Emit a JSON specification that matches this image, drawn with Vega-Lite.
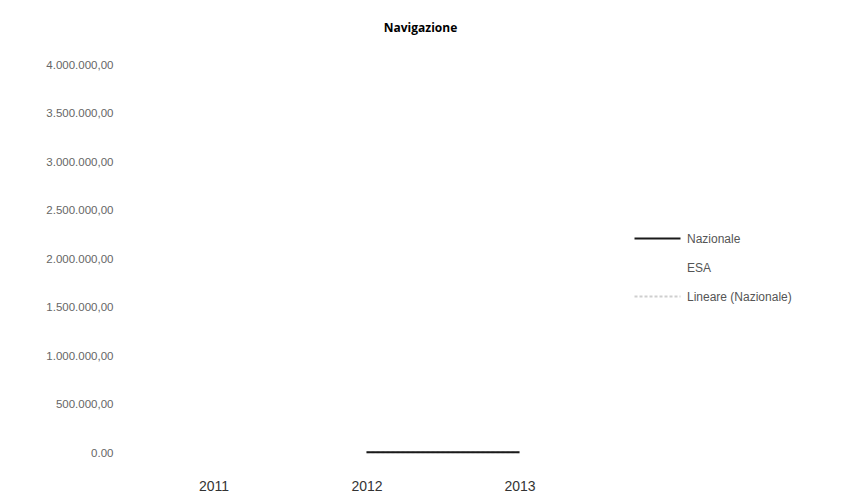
{
  "$schema": "https://vega.github.io/schema/vega-lite/v6.json",
  "width": 459,
  "height": 388,
  "autosize": {"type": "none"},
  "padding": {"left": 137, "top": 65, "right": 245, "bottom": 45},
  "background": "white",
  "config": {
    "view": {"stroke": null},
    "locale": {"number": {"decimal": ",", "thousands": ".", "grouping": [3], "currency": ["€", ""]}}
  },
  "title": {
    "text": "Navigazione",
    "anchor": "middle",
    "dx": 54,
    "offset": 24,
    "font": "Open Sans",
    "fontSize": 12,
    "fontWeight": "bold",
    "color": "#000000"
  },
  "data": {
    "values": [
      {"anno": 2012, "valore": 8000, "serie": "Lineare (Nazionale)"},
      {"anno": 2013, "valore": 9000, "serie": "Lineare (Nazionale)"},
      {"anno": 2012, "valore": null, "serie": "ESA"},
      {"anno": 2013, "valore": null, "serie": "ESA"},
      {"anno": 2012, "valore": 8000, "serie": "Nazionale"},
      {"anno": 2013, "valore": 9000, "serie": "Nazionale"}
    ]
  },
  "mark": {"type": "line", "strokeWidth": 2},
  "encoding": {
    "x": {
      "field": "anno",
      "type": "quantitative",
      "scale": {"domain": [2010.5, 2013.5], "nice": false, "zero": false},
      "axis": {
        "values": [2011, 2012, 2013],
        "format": "d",
        "title": null,
        "domain": false,
        "ticks": false,
        "grid": false,
        "labelFont": "Liberation Sans",
        "labelFontSize": 14,
        "labelPadding": 26,
        "labelColor": "#333333"
      }
    },
    "y": {
      "field": "valore",
      "type": "quantitative",
      "scale": {"domain": [0, 4000000], "nice": false},
      "axis": {
        "values": [0, 500000, 1000000, 1500000, 2000000, 2500000, 3000000, 3500000, 4000000],
        "labelExpr": "datum.value == 0 ? '0.00' : format(datum.value, ',.2f')",
        "title": null,
        "domain": false,
        "ticks": false,
        "grid": false,
        "labelFont": "Liberation Sans",
        "labelFontSize": 11.5,
        "labelPadding": 24,
        "labelColor": "#666666"
      }
    },
    "color": {
      "field": "serie",
      "type": "nominal",
      "scale": {
        "domain": ["Nazionale", "ESA", "Lineare (Nazionale)"],
        "range": ["#1a1a1a", "#ffffff", "#cfcfcf"]
      },
      "legend": {
        "orient": "none",
        "legendX": 508,
        "legendY": 161,
        "title": null,
        "padding": 0,
        "symbolType": "M-2,0H2",
        "symbolSize": 529,
        "symbolStrokeWidth": 2,
        "labelOffset": 17,
        "rowPadding": 10,
        "labelFont": "Liberation Sans",
        "labelFontSize": 12,
        "labelColor": "#555555"
      }
    },
    "strokeDash": {
      "field": "serie",
      "type": "nominal",
      "scale": {
        "domain": ["Nazionale", "ESA", "Lineare (Nazionale)"],
        "range": [[1, 0], [1, 0], [3, 2]]
      },
      "legend": null
    },
    "order": {"field": "serie", "sort": "descending"}
  }
}
